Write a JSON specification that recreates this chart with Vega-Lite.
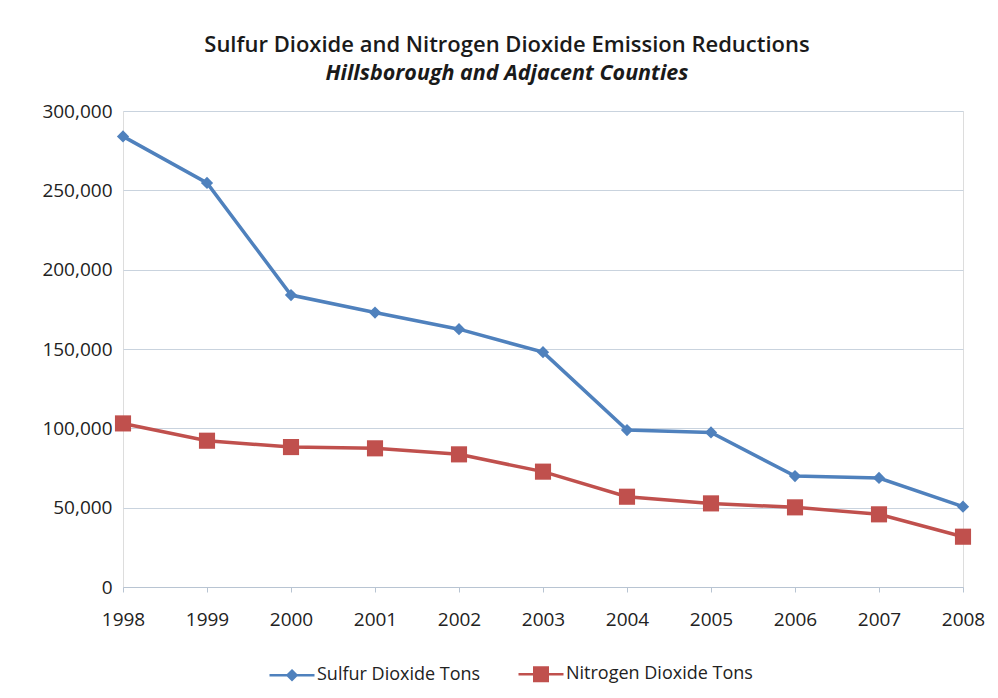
{
  "$schema": "https://vega.github.io/schema/vega-lite/v6.json",
  "width": 840,
  "height": 476,
  "autosize": "none",
  "padding": {"left": 123, "top": 111, "right": 35, "bottom": 111},
  "background": "white",
  "title": {
    "text": "Sulfur Dioxide and Nitrogen Dioxide Emission Reductions",
    "subtitle": "Hillsborough and Adjacent Counties",
    "anchor": "middle",
    "dx": -36,
    "offset": 17,
    "font": "Open Sans",
    "fontSize": 22,
    "fontWeight": 600,
    "color": "#1a1a1a",
    "subtitleFont": "Open Sans",
    "subtitleFontSize": 21.5,
    "subtitleFontWeight": "bold",
    "subtitleFontStyle": "italic",
    "subtitleColor": "#1a1a1a",
    "subtitlePadding": 6
  },
  "data": {
    "values": [
      {"year": "1998", "series": "Sulfur Dioxide Tons", "tons": 284000},
      {"year": "1999", "series": "Sulfur Dioxide Tons", "tons": 254700},
      {"year": "2000", "series": "Sulfur Dioxide Tons", "tons": 184000},
      {"year": "2001", "series": "Sulfur Dioxide Tons", "tons": 173000},
      {"year": "2002", "series": "Sulfur Dioxide Tons", "tons": 162500},
      {"year": "2003", "series": "Sulfur Dioxide Tons", "tons": 148000},
      {"year": "2004", "series": "Sulfur Dioxide Tons", "tons": 98900},
      {"year": "2005", "series": "Sulfur Dioxide Tons", "tons": 97400},
      {"year": "2006", "series": "Sulfur Dioxide Tons", "tons": 69900},
      {"year": "2007", "series": "Sulfur Dioxide Tons", "tons": 68700},
      {"year": "2008", "series": "Sulfur Dioxide Tons", "tons": 50600},
      {"year": "1998", "series": "Nitrogen Dioxide Tons", "tons": 103100},
      {"year": "1999", "series": "Nitrogen Dioxide Tons", "tons": 92200},
      {"year": "2000", "series": "Nitrogen Dioxide Tons", "tons": 88200},
      {"year": "2001", "series": "Nitrogen Dioxide Tons", "tons": 87400},
      {"year": "2002", "series": "Nitrogen Dioxide Tons", "tons": 83600},
      {"year": "2003", "series": "Nitrogen Dioxide Tons", "tons": 72700},
      {"year": "2004", "series": "Nitrogen Dioxide Tons", "tons": 56900},
      {"year": "2005", "series": "Nitrogen Dioxide Tons", "tons": 52700},
      {"year": "2006", "series": "Nitrogen Dioxide Tons", "tons": 50200},
      {"year": "2007", "series": "Nitrogen Dioxide Tons", "tons": 45800},
      {"year": "2008", "series": "Nitrogen Dioxide Tons", "tons": 31700}
    ]
  },
  "encoding": {
    "x": {
      "field": "year",
      "type": "ordinal",
      "scale": {"type": "point", "padding": 0},
      "axis": {
        "title": null,
        "labelAngle": 0,
        "labelFont": "Open Sans",
        "labelFontSize": 19,
        "labelColor": "#222222",
        "labelPadding": 18,
        "domainColor": "#b8c4d2",
        "tickColor": "#b8c4d2",
        "tickSize": 5,
        "grid": false
      }
    },
    "y": {
      "field": "tons",
      "type": "quantitative",
      "scale": {"domain": [0, 300000], "nice": false},
      "axis": {
        "title": null,
        "values": [0, 50000, 100000, 150000, 200000, 250000, 300000],
        "format": ",d",
        "labelFont": "Open Sans",
        "labelFontSize": 19,
        "labelColor": "#222222",
        "labelPadding": 11,
        "domain": false,
        "ticks": false,
        "gridColor": "#c9d3de",
        "gridWidth": 1
      }
    },
    "color": {
      "field": "series",
      "type": "nominal",
      "sort": ["Sulfur Dioxide Tons", "Nitrogen Dioxide Tons"],
      "scale": {"domain": ["Sulfur Dioxide Tons", "Nitrogen Dioxide Tons"], "range": ["#4F81BD", "#C0504D"]},
      "legend": {
        "title": null,
        "orient": "none",
        "direction": "horizontal",
        "legendX": 145,
        "legendY": 539,
        "labelFont": "Open Sans",
        "labelFontSize": 18,
        "labelColor": "#222222",
        "labelOffset": 1,
        "labelLimit": 400,
        "columnPadding": 32,
        "symbolSize": 2025,
        "symbolStrokeWidth": 2.5,
        "symbolOpacity": 1,
        "encode": {
          "symbols": {
            "update": {
              "shape": {"signal": "datum.value == 'Sulfur Dioxide Tons' ? 'M-1,0H1M0,-0.2L0.2,0L0,0.2L-0.2,0Z' : 'M-1,0H1M-0.3,-0.3H0.3V0.3H-0.3Z'"},
              "fill": {"scale": "color", "field": "value"},
              "stroke": {"scale": "color", "field": "value"},
              "strokeWidth": {"value": 2.5},
              "opacity": {"value": 1}
            }
          }
        }
      }
    }
  },
  "layer": [
    {
      "mark": {"type": "line", "strokeWidth": 3.5},
      "encoding": {"detail": {"field": "series"}}
    },
    {
      "transform": [{"filter": "datum.series == 'Sulfur Dioxide Tons'"}],
      "mark": {"type": "point", "shape": "diamond", "filled": true, "opacity": 1, "size": 150}
    },
    {
      "transform": [{"filter": "datum.series == 'Nitrogen Dioxide Tons'"}],
      "mark": {"type": "point", "shape": "square", "filled": true, "opacity": 1, "size": 260}
    }
  ]
}
